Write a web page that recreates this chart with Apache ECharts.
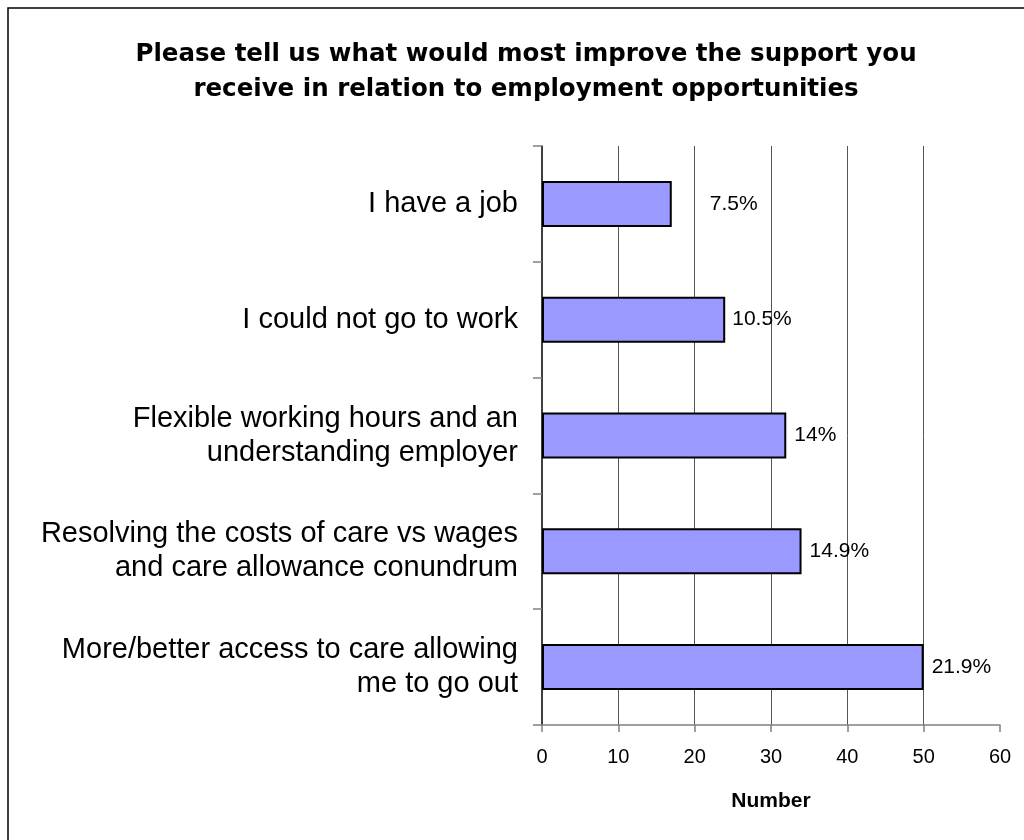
<!DOCTYPE html>
<html>
<head>
<meta charset="utf-8">
<script src="https://cdn.jsdelivr.net/npm/echarts@6/dist/echarts.min.js"></script>
<style>
html,body{margin:0;padding:0;background:#fff;}
#chart{width:1024px;height:840px;}
</style>
</head>
<body>
<div id="chart"></div>
<script>
var categories = [
  "I have a job",
  "I could not go to work",
  "Flexible working hours and an\nunderstanding employer",
  "Resolving the costs of care vs wages\nand care allowance conundrum",
  "More/better access to care allowing\nme to go out"
];
var counts = [17, 24, 32, 34, 50];
var percentLabels = ["7.5%", "10.5%", "14%", "14.9%", "21.9%"];
var labelDistances = [38, 7, 8, 8, 8];
var xTicks = { min: 0, max: 60, interval: 10 };

var chart = echarts.init(document.getElementById('chart'), null, {renderer: 'canvas'});
var seriesData = counts.map(function (v, i) {
  return {
    value: v,
    label: { distance: labelDistances[i] }
  };
});
chart.setOption({
  backgroundColor: '#ffffff',
  animation: false,
  title: {
    text: 'Please tell us what would most improve the support you\nreceive in relation to employment opportunities',
    left: 521,
    top: 32,
    textAlign: 'center',
    textStyle: {
      fontFamily: 'DejaVu Sans',
      fontWeight: 'bold',
      fontSize: 24.5,
      lineHeight: 35,
      color: '#000'
    }
  },
  graphic: [{
    type: 'rect',
    shape: { x: 8, y: 8, width: 1100, height: 1000 },
    style: { fill: 'none', stroke: '#000', lineWidth: 1.5 },
    silent: true
  }],
  grid: { left: 542, right: 24, top: 146, bottom: 115, containLabel: false },
  xAxis: {
    type: 'value',
    min: xTicks.min,
    max: xTicks.max,
    interval: xTicks.interval,
    name: 'Number',
    nameLocation: 'middle',
    nameGap: 66,
    nameMoveOverlap: false,
    nameTextStyle: {
      fontFamily: 'Liberation Sans',
      fontWeight: 'bold',
      fontSize: 21,
      color: '#000'
    },
    axisLine: { show: true, lineStyle: { color: '#808080', width: 1.5 } },
    axisTick: { show: true, length: 7, lineStyle: { color: '#808080', width: 1.5 } },
    axisLabel: {
      margin: 22,
      fontFamily: 'Liberation Sans',
      fontSize: 20,
      color: '#000'
    },
    splitLine: {
      show: true,
      showMinLine: false,
      showMaxLine: false,
      lineStyle: { color: '#555', width: 1 }
    }
  },
  yAxis: {
    type: 'category',
    data: categories,
    inverse: true,
    axisLine: { show: true, lineStyle: { color: '#000', width: 1.5 } },
    axisTick: { show: true, length: 9, lineStyle: { color: '#808080', width: 1.5 } },
    axisLabel: {
      margin: 24,
      fontFamily: 'Liberation Sans',
      fontSize: 29,
      lineHeight: 34,
      color: '#000',
      align: 'right'
    },
    splitLine: { show: false }
  },
  series: [{
    type: 'bar',
    data: seriesData,
    barWidth: 46,
    itemStyle: { color: '#9999FF', borderColor: '#000', borderWidth: 2 },
    label: {
      show: true,
      position: 'right',
      fontFamily: 'Liberation Sans',
      fontSize: 21,
      color: '#000',
      formatter: function (p) { return percentLabels[p.dataIndex]; }
    }
  }]
});
</script>
</body>
</html>
